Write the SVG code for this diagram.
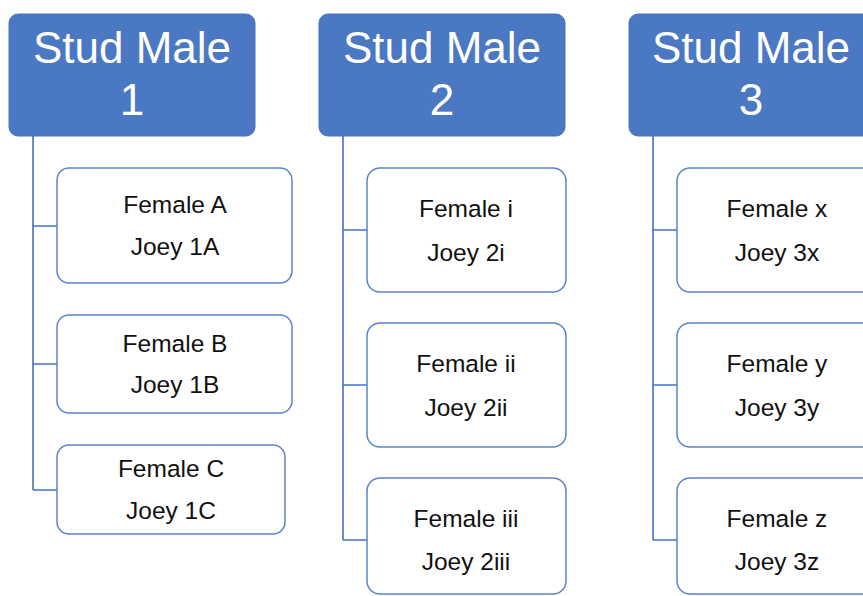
<svg xmlns="http://www.w3.org/2000/svg" width="863" height="596" viewBox="0 0 863 596">
<style>
.hdr{fill:#4a78c2;stroke:#4472c4;stroke-width:1}
.hdrt{font-family:"Liberation Sans",Arial,sans-serif;font-size:44px;fill:#fff;text-anchor:middle}
.box{fill:#fff;stroke:#5b84cc;stroke-width:1.5}
.bt{font-family:"Liberation Sans",Arial,sans-serif;font-size:24.5px;fill:#111;text-anchor:middle}
.con{fill:none;stroke:#4472c4;stroke-width:1.6}
</style>
<rect width="863" height="596" fill="#fff"/>
<g id="connectors">
<path class="con" d="M33 136V490M33 226H57M33 364H57M33 490H57"/>
<path class="con" d="M343 136V540M343 230H367M343 385H367M343 540H367"/>
<path class="con" d="M653 136V540M653 230H677M653 385H677M653 540H677"/>
</g>
<g id="stud1"><rect class="hdr" x="9" y="14" width="246" height="122" rx="9"/><text class="hdrt" x="132" y="63">Stud Male</text><text class="hdrt" x="132" y="115">1</text></g>
<g id="stud2"><rect class="hdr" x="319" y="14" width="246" height="122" rx="9"/><text class="hdrt" x="442" y="63">Stud Male</text><text class="hdrt" x="442" y="115">2</text></g>
<g id="stud3"><rect class="hdr" x="629" y="14" width="250" height="122" rx="9"/><text class="hdrt" x="751" y="63">Stud Male</text><text class="hdrt" x="751" y="115">3</text></g>
<g id="femA"><rect class="box" x="57" y="168" width="235" height="115" rx="12"/><text class="bt" x="175" y="213">Female A</text><text class="bt" x="175" y="255">Joey 1A</text></g>
<g id="femB"><rect class="box" x="57" y="315" width="235" height="98" rx="12"/><text class="bt" x="175" y="352">Female B</text><text class="bt" x="175" y="393">Joey 1B</text></g>
<g id="femC"><rect class="box" x="57" y="445" width="228" height="89" rx="12"/><text class="bt" x="171" y="477">Female C</text><text class="bt" x="171" y="519">Joey 1C</text></g>
<g id="femi"><rect class="box" x="367" y="168" width="199" height="124" rx="13"/><text class="bt" x="466" y="217">Female i</text><text class="bt" x="466" y="261">Joey 2i</text></g>
<g id="femii"><rect class="box" x="367" y="323" width="199" height="124" rx="13"/><text class="bt" x="466" y="372">Female ii</text><text class="bt" x="466" y="416">Joey 2ii</text></g>
<g id="femiii"><rect class="box" x="367" y="478" width="199" height="116" rx="13"/><text class="bt" x="466" y="527">Female iii</text><text class="bt" x="466" y="570">Joey 2iii</text></g>
<g id="femx"><rect class="box" x="677" y="168" width="200" height="124" rx="13"/><text class="bt" x="777" y="217">Female x</text><text class="bt" x="777" y="261">Joey 3x</text></g>
<g id="femy"><rect class="box" x="677" y="323" width="200" height="124" rx="13"/><text class="bt" x="777" y="372">Female y</text><text class="bt" x="777" y="416">Joey 3y</text></g>
<g id="femz"><rect class="box" x="677" y="478" width="200" height="116" rx="13"/><text class="bt" x="777" y="527">Female z</text><text class="bt" x="777" y="570">Joey 3z</text></g>
</svg>
